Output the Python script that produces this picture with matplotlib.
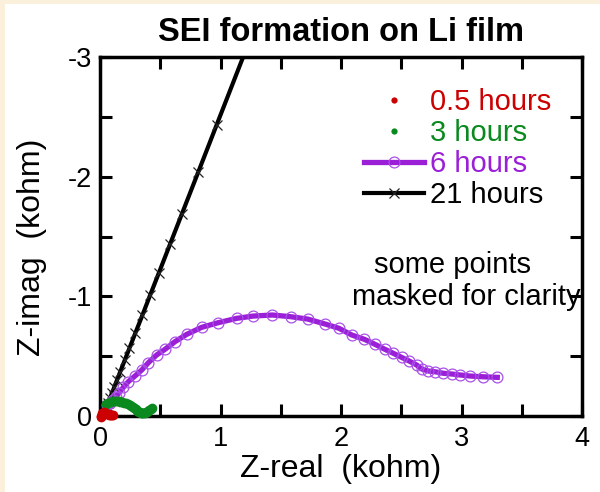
import matplotlib
matplotlib.use("Agg")
import matplotlib.pyplot as plt
from matplotlib.patches import Rectangle
from matplotlib.ticker import MultipleLocator, FuncFormatter

plt.rcParams['font.family'] = ['Liberation Sans', 'DejaVu Sans']
plt.rcParams['axes.unicode_minus'] = False

# 0.5 hours
x_05h = [0.008, 0.010, 0.014, 0.018, 0.024, 0.030, 0.037, 0.045, 0.052, 0.060, 0.067,
         0.075, 0.082, 0.090, 0.097, 0.105]
y_05h = [0.012, 0.000, -0.012, -0.022, -0.028, -0.030, -0.029, -0.025, -0.021, -0.018,
         -0.015, -0.012, -0.011, -0.010, -0.010, -0.010]

# 3 hours
x_3h = [0.05, 0.065, 0.08, 0.095, 0.11, 0.125, 0.14, 0.155, 0.17, 0.185, 0.20, 0.215,
        0.23, 0.245, 0.26, 0.275, 0.285, 0.30, 0.31, 0.32, 0.33, 0.34, 0.35, 0.36,
        0.37, 0.38, 0.39, 0.40, 0.41, 0.42, 0.43]
y_3h = [-0.100, -0.108, -0.115, -0.120, -0.124, -0.125, -0.125, -0.123, -0.120, -0.116,
        -0.110, -0.105, -0.099, -0.092, -0.085, -0.075, -0.066, -0.055, -0.045, -0.037,
        -0.030, -0.025, -0.022, -0.022, -0.025, -0.030, -0.037, -0.045, -0.053, -0.060,
        -0.067]

# 6 hours
x_6h = [0.06, 0.08, 0.11, 0.13, 0.158, 0.194, 0.235, 0.29, 0.346, 0.401, 0.47, 0.539,
        0.622, 0.719, 0.844, 0.982, 1.134, 1.27, 1.43, 1.582, 1.724, 1.867, 1.983, 2.089,
        2.194, 2.282, 2.365, 2.434, 2.503, 2.567, 2.628, 2.669, 2.725, 2.78, 2.849, 2.918,
        2.988, 3.07, 3.176, 3.297]
y_6h = [-0.09, -0.11, -0.134, -0.156, -0.195, -0.24, -0.287, -0.334, -0.384, -0.445,
        -0.51, -0.557, -0.621, -0.682, -0.741, -0.78, -0.816, -0.835, -0.844, -0.83,
        -0.81, -0.769, -0.733, -0.677, -0.641, -0.599, -0.557, -0.524, -0.49, -0.459,
        -0.426, -0.393, -0.376, -0.37, -0.357, -0.351, -0.343, -0.334, -0.328, -0.323]

# 21 hours
x_21h = [0.025, 0.044, 0.056, 0.068, 0.083, 0.099, 0.118, 0.141, 0.168, 0.206, 0.244,
         0.292, 0.351, 0.416, 0.489, 0.583, 0.68, 0.816, 0.967, 1.304]
y_21h = [0.0, -0.05, -0.08, -0.11, -0.15, -0.19, -0.24, -0.30, -0.37, -0.468, -0.566,
         -0.69, -0.84, -1.01, -1.197, -1.44, -1.69, -2.04, -2.43, -3.30]

labels = ['0.5 hours', '3 hours', '6 hours', '21 hours']
colors = ['#cc0000', '#0a8a1e', '#9a1fd6', '#000000']

W, H = 600, 492
fig = plt.figure(figsize=(W / 100, H / 100), dpi=100)
fig.patch.set_facecolor('#fbf0dc')
fig.patches.append(Rectangle((5 / W, 0), 1, 1 - 4 / H, transform=fig.transFigure,
                             facecolor='white', edgecolor='none', zorder=-1))

ax = fig.add_axes([100 / W, 1 - 416 / H, 482 / W, 359 / H])

l05, = ax.plot(x_05h, y_05h, 'o', color=colors[0], ms=7, mew=0, clip_on=False,
               zorder=5, label=labels[0])
l3, = ax.plot(x_3h, y_3h, 'o', color=colors[1], ms=7, mew=0, clip_on=False,
              zorder=4, label=labels[1])
l6, = ax.plot(x_6h, y_6h, '-', color=colors[2], lw=3.8, marker='o', ms=7.8, mfc='none',
              mec='#a850e8', mew=0.9, zorder=3, label=labels[2])
l21, = ax.plot(x_21h, y_21h, '-', color=colors[3], lw=3, marker='x', ms=6.5,
               mec='#222222', mew=0.9, zorder=2, label=labels[3])

ax.set_xlim(0, 4)
ax.set_ylim(0, -3)
ax.xaxis.set_major_locator(MultipleLocator(0.5))
ax.yaxis.set_major_locator(MultipleLocator(0.5))
fmt = FuncFormatter(lambda v, p: '%d' % round(v) if abs(v - round(v)) < 1e-6 else '')
ax.xaxis.set_major_formatter(fmt)
ax.yaxis.set_major_formatter(fmt)
ax.tick_params(direction='in', length=8.6, width=2.2, top=True, right=True,
               labelsize=19.5)
ax.tick_params(axis='x', pad=7)
ax.tick_params(axis='y', pad=6)
for s in ax.spines.values():
    s.set_linewidth(2.5)

ax.set_xlabel('Z-real  (kohm)', fontsize=23)
ax.set_ylabel('Z-imag  (kohm)', fontsize=23)
ax.xaxis.set_label_coords(0.5, -0.105)
ax.yaxis.set_label_coords(-0.11, 0.47)

fig.text(341 / W, 1 - 41 / H, 'SEI formation on Li film', ha='center', va='baseline',
         fontsize=23.5, fontweight='bold')

leg = ax.legend(handles=[l05, l3, l6, l21], loc='upper left', frameon=False, fontsize=21,
                bbox_to_anchor=(364 / W, 1 - 88 / H), bbox_transform=fig.transFigure,
                borderpad=0, borderaxespad=0, handlelength=2.07, handletextpad=0.2,
                labelspacing=0.1, numpoints=1, labelcolor=colors)
for h in leg.legend_handles[:2]:
    h.set_markersize(4.5)

fig.text(452 / W, 1 - 265 / H, 'some points', ha='center', va='center', fontsize=21)
fig.text(466 / W, 1 - 297 / H, 'masked for clarity', ha='center', va='center',
         fontsize=21)

fig.savefig('out.png', dpi=100, facecolor=fig.get_facecolor())
